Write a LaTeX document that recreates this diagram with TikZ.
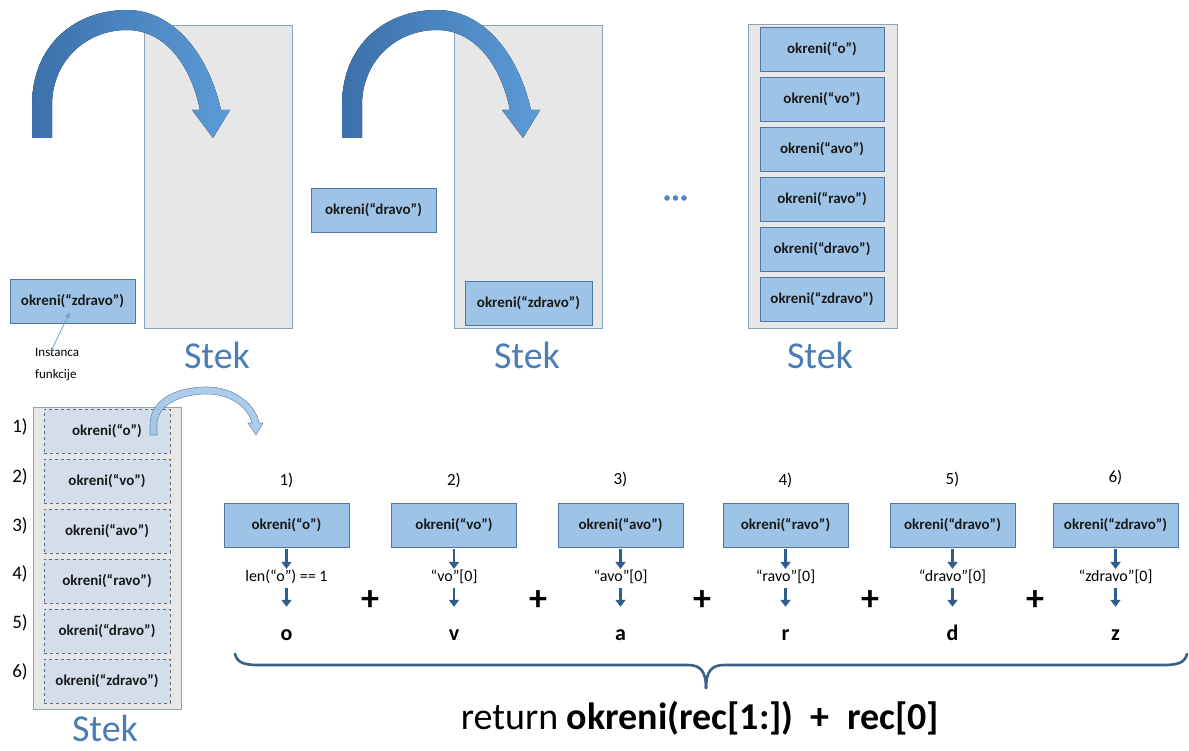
\documentclass[tikz,border=0pt]{standalone}
\usepackage{fontspec}
\setmainfont{Carlito}
\usetikzlibrary{arrows.meta}

\definecolor{boxfill}{HTML}{9DC3E6}
\definecolor{boxline}{HTML}{4F75A0}
\definecolor{stackfill}{HTML}{E7E7E7}
\definecolor{stackline}{HTML}{8CA3BE}
\definecolor{stektext}{HTML}{4A7DB5}
\definecolor{dashfill}{HTML}{D3DEEA}
\definecolor{dashline}{HTML}{5E6E82}
\definecolor{arrdark}{HTML}{3C70AA}
\definecolor{arrlight}{HTML}{5B9BD6}
\definecolor{smallarr}{HTML}{2F5E8C}
\definecolor{bracecol}{HTML}{3B5F86}
\definecolor{dotcol}{HTML}{4E86C6}
\definecolor{thinarr}{HTML}{6F9FD3}

\begin{document}
\begin{tikzpicture}[x=1pt,y=-1pt,
  okbox/.style={draw=boxline, fill=boxfill, line width=0.8pt,
    minimum width=125pt, minimum height=44pt, inner sep=0pt,
    font=\fontsize{15}{17}\selectfont\bfseries, text=black!90},
  stackbox/.style={draw=stackline, fill=stackfill, line width=0.8pt,
    minimum width=148pt, minimum height=303pt, inner sep=0pt},
  dashbox/.style={draw=dashline, fill=dashfill, dashed, line width=0.6pt,
    minimum width=126pt, minimum height=44pt, inner sep=0pt,
    font=\fontsize{15}{17}\selectfont\bfseries, text=black!90},
  stek/.style={text=stektext, font=\fontsize{38}{40}\selectfont, inner sep=0pt},
  numlabel/.style={font=\fontsize{19}{21}\selectfont, inner sep=0pt},
  exprtext/.style={font=\fontsize{16}{18}\selectfont, inner sep=1pt},
  letter/.style={font=\fontsize{22}{24}\selectfont\bfseries, inner sep=0pt,
    anchor=base, text height=16pt},
  plus/.style={font=\fontsize{36}{36}\selectfont\bfseries, inner sep=0pt},
  downarr/.style={draw=smallarr, line width=2.6pt,
    -{Triangle[width=10pt,length=7pt]}},
  callarrow/.style={left color=arrdark, right color=arrlight, draw=none},
]
\useasboundingbox (0,0) rectangle (1189,751);

% ---------- stacks (top row) ----------
\node[stackbox] (st1) at (218,176.5) {};
\node[stackbox] (st2) at (528.5,176.5) {};
\node[stackbox, minimum width=149pt, minimum height=304pt] (st3) at (822.5,176) {};

% big call arrows
\foreach \dx in {0,310}{
  \fill[callarrow, shift={(\dx,0)}]
    (32,138) -- (32,105) .. controls (32,45) and (75,10) .. (127,10)
    .. controls (172,10) and (208,52) .. (221,110)
    -- (230,110) -- (213,138) -- (192,110) -- (200,110)
    .. controls (190,62) and (163,30) .. (127,30)
    .. controls (85,30) and (52,62) .. (52,105) -- (52,138) -- cycle;
}

% function instances
\node[okbox] (z1) at (72.5,301) {okreni(“zdravo”)};
\node[okbox] (d2) at (373.5,210.5) {okreni(“dravo”)};
\node[okbox, minimum width=127pt] (z2) at (528.5,303) {okreni(“zdravo”)};

% annotation
\node[font=\fontsize{13}{22}\selectfont, align=left, anchor=north west, inner sep=0pt]
  (inst) at (35,348) {Instanca\\funkcije};
\coordinate (ztip) at (70,312);
\draw[thinarr, line width=0.8pt, -{Latex[length=6pt,width=5pt]}]
  ([xshift=-6pt,yshift=-3pt]inst.north) -- (ztip);

\node[stek] (stek1) at (217,355) {Stek};
\node[stek] (stek2) at (527,355) {Stek};
\node[stek] (stek3) at (820,355) {Stek};

% ellipsis
\foreach \xx in {667,675.5,684}
  \fill[dotcol] (\xx,198) circle (2.8);

% full stack
\foreach \i/\t in {0/o,1/vo,2/avo,3/ravo,4/dravo,5/zdravo}
  \node[okbox, minimum width=124pt] (s3\i) at (822,49+50*\i) {okreni(“\t”)};

% ---------- bottom-left stack ----------
\node[stackbox, minimum height=302pt] (st4) at (107,558) {};
\foreach \i/\t/\ly in {0/o/427,1/vo/477,2/avo/526,3/ravo/574,4/dravo/623,5/zdravo/672}{
  \node[dashbox] (q\i) at (107,431+50*\i) {okreni(“\t”)};
  \pgfmathtruncatemacro\n{\i+1}
  \node[numlabel] (ql\i) at (20,\ly) {\n)};
}
\node[stek] (stek4) at (105,728) {Stek};

% small transfer arrow
\filldraw[fill=boxfill, fill opacity=0.85, draw=boxline!80, line width=0.6pt]
  (150,435) -- (150,425) .. controls (150,400) and (175,387) .. (207,387)
  .. controls (235,387) and (256,405) .. (259,423)
  -- (263,423) -- (256,435) -- (248,423) -- (252,423)
  .. controls (249,409) and (232,394) .. (207,394)
  .. controls (180,394) and (157,405) .. (157,425) -- (157,435) -- cycle;

% ---------- evaluation row ----------
\foreach \i/\cx/\ly/\t/\e/\l in {
  1/286.5/480/o/{len(“o”) == 1}/o,
  2/454/480/vo/{“vo”[0]}/v,
  3/620.5/479/avo/{“avo”[0]}/a,
  4/785.5/480/ravo/{“ravo”[0]}/r,
  5/952.5/479/dravo/{“dravo”[0]}/d,
  6/1115.5/477/zdravo/{“zdravo”[0]}/z}{
  \node[numlabel, font=\fontsize{17}{19}\selectfont] (n\i) at (\cx,\ly) {\i)};
  \node[okbox] (b\i) at (\cx,525) {okreni(“\t”)};
  \node[exprtext] (e\i) at (\cx,577) {\e};
  \node[letter] (l\i) at (\cx,640) {\l};
  \draw[downarr, shorten <=2pt] (b\i.south) -- (e\i.north);
  \draw[downarr, shorten <=3pt, shorten >=17pt] (e\i.south) -- (l\i.north);
}

\foreach \px/\k in {370/1,538/2,702/3,870/4,1035/5}
  \node[plus] (p\k) at (\px,601) {+};

% brace
\draw[bracecol, line width=2.6pt, line cap=round]
  (235,654) .. controls (237,662) and (243,665) .. (258,665)
  -- (688,665) .. controls (700,665) and (706,671) .. (706,688);
\draw[bracecol, line width=2.6pt, line cap=round]
  (1187,654) .. controls (1185,662) and (1179,665) .. (1164,665)
  -- (724,665) .. controls (712,665) and (706,671) .. (706,688);

\node[font=\fontsize{38}{40}\selectfont, inner sep=0pt] (ret) at (700,718)
  {return \textbf{okreni(rec[1:])\ \ +\ \ rec[0]}};

\end{tikzpicture}
\end{document}
